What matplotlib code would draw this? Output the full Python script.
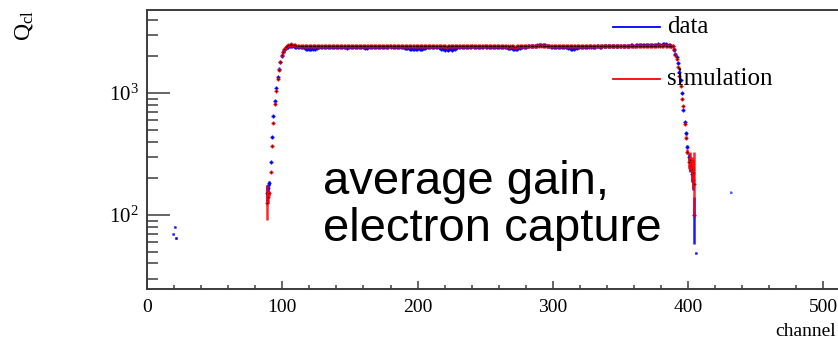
import numpy as np
import matplotlib
matplotlib.use("Agg")
import matplotlib.pyplot as plt
from matplotlib.lines import Line2D
from matplotlib.ticker import (LogLocator, MultipleLocator, LogFormatterMathtext,
                               NullFormatter)

# ---------------------------------------------------------------- data
# measured cluster charge per channel (bin centres)
data_edge_x = [19.5, 20.5, 21.5]
data_edge_y = [70, 79, 65]

rise_x = [88.5, 89.5, 90.5, 91.5, 92.5, 93.5, 94.5, 95.5, 96.5,
          97.5, 98.5, 99.5, 100.5, 101.5, 102.5, 103.5, 104.5, 105.5]
data_rise_y = [150, 165, 182, 273, 438, 648, 865, 1105, 1345,
               1560, 1790, 2000, 2150, 2250, 2320, 2370, 2400, 2430]
data_rise_err = [25, 15, 8, 5, 7, 10, 13, 16, 20,
                 23, 26, 30, 32, 33, 34, 35, 35, 36]
sim_rise_y = [125, 140, 150, 225, 368, 564, 808, 1044, 1300,
              1544, 1786, 2030, 2180, 2290, 2380, 2430, 2470, 2490]
sim_rise_lo = [34, 14, 8, 5, 6, 9, 12, 15, 19,
               22, 26, 30, 32, 33, 35, 35, 36, 36]
sim_rise_hi = [50, 14, 8, 5, 6, 9, 12, 15, 19,
               22, 26, 30, 32, 33, 35, 35, 36, 36]

plateau_first, plateau_last = 106.5, 387.5
data_plateau_y = [
    2440, 2420, 2410, 2400, 2390, 2380, 2395, 2385, 2370, 2380,
    2350, 2310, 2290, 2300, 2280, 2310, 2295, 2320, 2300, 2330,
    2360, 2380, 2390, 2375, 2385, 2395, 2380, 2370, 2390, 2400,
    2385, 2370, 2380, 2395, 2390, 2375, 2385, 2400, 2390, 2380,
    2360, 2350, 2370, 2385, 2390, 2380, 2395, 2385, 2370, 2380,
    2390, 2400, 2385, 2375, 2360, 2340, 2355, 2370, 2385, 2390,
    2380, 2395, 2400, 2390, 2380, 2370, 2385, 2395, 2390, 2380,
    2375, 2390, 2400, 2410, 2395, 2385, 2370, 2380, 2390, 2385,
    2375, 2380, 2390, 2370, 2350, 2340, 2330, 2320, 2310, 2300,
    2315, 2300, 2290, 2305, 2320, 2300, 2310, 2295, 2320, 2340,
    2360, 2380, 2390, 2385, 2375, 2390, 2400, 2385, 2370, 2360,
    2340, 2310, 2290, 2280, 2270, 2285, 2260, 2275, 2290, 2270,
    2280, 2300, 2330, 2360, 2380, 2390, 2385, 2395, 2400, 2390,
    2380, 2385, 2395, 2400, 2410, 2395, 2385, 2390, 2400, 2395,
    2385, 2380, 2395, 2405, 2400, 2390, 2380, 2385, 2395, 2400,
    2390, 2385, 2380, 2370, 2385, 2395, 2390, 2380, 2370, 2360,
    2350, 2340, 2330, 2320, 2310, 2300, 2290, 2300, 2320, 2340,
    2360, 2380, 2390, 2400, 2395, 2405, 2415, 2410, 2420, 2430,
    2440, 2450, 2460, 2470, 2480, 2475, 2490, 2470, 2460, 2450,
    2430, 2420, 2400, 2395, 2390, 2380, 2385, 2395, 2390, 2380,
    2375, 2385, 2390, 2380, 2360, 2340, 2320, 2310, 2300, 2310,
    2330, 2350, 2370, 2385, 2390, 2395, 2400, 2390, 2385, 2395,
    2400, 2410, 2395, 2385, 2390, 2400, 2410, 2405, 2395, 2400,
    2410, 2420, 2415, 2405, 2410, 2420, 2430, 2425, 2415, 2420,
    2430, 2440, 2435, 2425, 2430, 2440, 2450, 2445, 2435, 2440,
    2450, 2460, 2455, 2445, 2450, 2460, 2470, 2465, 2455, 2460,
    2470, 2480, 2475, 2465, 2470, 2480, 2490, 2485, 2475, 2480,
    2490, 2500, 2495, 2485, 2490, 2500, 2510, 2500, 2490, 2480,
    2460, 2440]
sim_plateau_y = [
    2500, 2490, 2470, 2455, 2440, 2435, 2430, 2440, 2425, 2430,
    2420, 2430, 2440, 2425, 2435, 2430, 2420, 2435, 2440, 2430,
    2425, 2435, 2440, 2430, 2420, 2430, 2440, 2435, 2425, 2430,
    2440, 2430, 2420, 2415, 2425, 2435, 2430, 2420, 2430, 2440,
    2435, 2425, 2430, 2420, 2410, 2425, 2435, 2430, 2420, 2425,
    2435, 2440, 2430, 2420, 2425, 2415, 2420, 2430, 2440, 2435,
    2425, 2430, 2440, 2445, 2435, 2425, 2430, 2420, 2415, 2425,
    2435, 2440, 2445, 2450, 2440, 2430, 2420, 2425, 2435, 2430,
    2420, 2425, 2435, 2430, 2420, 2410, 2415, 2425, 2420, 2410,
    2405, 2415, 2420, 2410, 2405, 2415, 2425, 2420, 2410, 2420,
    2430, 2435, 2440, 2430, 2420, 2430, 2440, 2435, 2425, 2420,
    2410, 2405, 2415, 2420, 2410, 2400, 2410, 2420, 2415, 2405,
    2410, 2420, 2430, 2435, 2440, 2430, 2420, 2430, 2440, 2435,
    2425, 2430, 2440, 2450, 2445, 2435, 2430, 2440, 2450, 2445,
    2435, 2430, 2440, 2445, 2435, 2425, 2430, 2440, 2435, 2425,
    2430, 2440, 2435, 2425, 2420, 2430, 2435, 2425, 2415, 2420,
    2410, 2400, 2410, 2420, 2410, 2400, 2395, 2405, 2415, 2420,
    2430, 2440, 2435, 2425, 2430, 2440, 2445, 2435, 2430, 2440,
    2450, 2445, 2440, 2450, 2455, 2445, 2440, 2450, 2445, 2435,
    2430, 2440, 2435, 2425, 2420, 2430, 2440, 2435, 2425, 2415,
    2420, 2430, 2425, 2415, 2410, 2405, 2415, 2425, 2420, 2410,
    2415, 2425, 2430, 2420, 2415, 2425, 2435, 2430, 2420, 2425,
    2435, 2440, 2430, 2420, 2425, 2435, 2440, 2430, 2420, 2425,
    2430, 2440, 2435, 2425, 2430, 2435, 2440, 2430, 2425, 2435,
    2440, 2435, 2425, 2430, 2440, 2445, 2435, 2430, 2440, 2435,
    2430, 2440, 2445, 2435, 2430, 2440, 2450, 2445, 2435, 2440,
    2445, 2440, 2435, 2445, 2450, 2440, 2435, 2445, 2450, 2445,
    2440, 2450, 2455, 2445, 2440, 2450, 2455, 2445, 2440, 2450,
    2440, 2430]
plateau_rel_err = 0.015

fall_x = [388.5, 389.5, 390.5, 391.5, 392.5, 393.5, 394.5, 395.5, 396.5,
          397.5, 398.5, 399.5, 400.5, 401.5, 402.5, 403.5, 404.5]
data_fall_y = [2430, 2250, 2100, 1985, 1750, 1495, 1278, 994, 726,
               582, 467, 363, 300, 250, 215, 195, 100]
data_fall_lo = [35, 33, 32, 30, 28, 25, 22, 18, 14,
                12, 11, 12, 20, 25, 30, 35, 42]
data_fall_hi = [35, 33, 32, 30, 28, 25, 22, 18, 14,
                12, 11, 12, 20, 25, 30, 35, 41]
sim_fall_y = [2420, 2300, 2050, 1900, 1620, 1380, 1150, 900, 780,
              560, 430, 330, 270, 280, 240, 220, 180]
sim_fall_lo = [35, 33, 31, 29, 26, 23, 20, 17, 15,
               12, 11, 15, 30, 50, 50, 55, 83]
sim_fall_hi = [35, 33, 31, 29, 26, 23, 20, 17, 15,
               12, 11, 15, 30, 50, 60, 70, 150]

data_tail_x = [405.5, 431.5]
data_tail_y = [49, 153]

# ---------------------------------------------------------------- style
plt.rcParams["font.family"] = ["Liberation Serif", "DejaVu Serif"]
plt.rcParams["mathtext.fontset"] = "custom"
plt.rcParams["mathtext.rm"] = "Liberation Serif"
plt.rcParams["mathtext.it"] = "Liberation Serif:italic"
plt.rcParams["mathtext.bf"] = "Liberation Serif:bold"

W, H = 838, 342
fig = plt.figure(figsize=(W / 100, H / 100), dpi=100)
ax = fig.add_axes([147 / W, (H - 289) / H, 692.7 / W, 279 / H])


def fx(px):
    return px / W


def fy(py):
    return 1 - py / H


plateau_x = np.arange(plateau_first, plateau_last + 1)


def build(edge_x, edge_y, rx, ry, rlo, rhi, py, fxs, fys, flo, fhi, tx, ty):
    x = list(edge_x) + list(rx) + list(plateau_x) + list(fxs) + list(tx)
    y = list(edge_y) + list(ry) + list(py) + list(fys) + list(ty)
    plo = [plateau_rel_err * v for v in py]
    lo = [1.5] * len(edge_x) + list(rlo) + plo + list(flo) + [1.0] * len(tx)
    hi = [1.5] * len(edge_x) + list(rhi) + plo + list(fhi) + [1.0] * len(tx)
    return np.array(x), np.array(y), np.array(lo), np.array(hi)


dx, dy, dlo, dhi = build(data_edge_x, data_edge_y, rise_x, data_rise_y,
                         data_rise_err, data_rise_err, data_plateau_y,
                         fall_x, data_fall_y, data_fall_lo, data_fall_hi,
                         data_tail_x, data_tail_y)
sx, sy, slo, shi = build([], [], rise_x, sim_rise_y, sim_rise_lo, sim_rise_hi,
                         sim_plateau_y, fall_x, sim_fall_y, sim_fall_lo,
                         sim_fall_hi, [], [])

blue = "#0000ff"
red = "#ff0000"

# markers only inside the illuminated region; isolated bins stay as dashes
dm = (dx > rise_x[0] - 1) & (dx < fall_x[-1] + 0.1)

ax.errorbar(dx, dy, xerr=0.5, yerr=[dlo, dhi], fmt="none", ecolor=blue,
            elinewidth=1.8, capsize=0, alpha=0.9)
ax.plot(dx[dm], dy[dm], ls="none", marker="+", ms=3.2, mew=1.0, color=blue)
ax.errorbar(sx, sy, xerr=0.5, yerr=[slo, shi], fmt="none", ecolor=red,
            elinewidth=1.8, capsize=0, alpha=0.85)
ax.plot(sx, sy, ls="none", marker="+", ms=3.2, mew=1.0, color=red)
ax.plot(sx, sy, ls="none", marker="s", ms=1.0, mew=0, color="#200000")

ax.set_yscale("log")
ax.set_xlim(0, 512)
ax.set_ylim(24.7, 4790)

ax.xaxis.set_major_locator(MultipleLocator(100))
ax.xaxis.set_minor_locator(MultipleLocator(20))
ax.yaxis.set_major_locator(LogLocator(base=10))
ax.yaxis.set_major_formatter(LogFormatterMathtext())
ax.yaxis.set_minor_locator(LogLocator(base=10, subs=range(2, 10)))
ax.yaxis.set_minor_formatter(NullFormatter())

frame = "#3c3c3c"
for side in ("left", "bottom", "top"):
    ax.spines[side].set_color(frame)
    ax.spines[side].set_linewidth(1.4)
ax.spines["right"].set_visible(False)

ax.tick_params(axis="y", which="major", direction="in", length=16.5,
               width=1.1, color=frame, labelsize=15, pad=6, left=True,
               right=False)
ax.tick_params(axis="y", which="minor", direction="in", length=8,
               width=1.1, color=frame, left=True, right=False)
ax.tick_params(axis="x", which="major", direction="in", length=6,
               width=1.1, color=frame, labelsize=14, pad=7, top=False)
ax.tick_params(axis="x", which="minor", direction="in", length=3,
               width=1.1, color=frame, top=False)

# axis titles
fig.text(fx(24), fy(26), r"$\mathrm{Q_{cl}}$", rotation=90, fontsize=17,
         ha="center", va="center")
fig.text(fx(836), fy(331), "channel", fontsize=14, ha="right", va="center")

# legend
for ypx, col, lab in ((27, blue, "data"), (79, red, "simulation")):
    fig.add_artist(Line2D([fx(613), fx(660)], [fy(ypx), fy(ypx)],
                          color=col, lw=1.3))
    fig.text(fx(667), fy(ypx), lab, fontsize=18, ha="left", va="center")

# annotation
for ypx, line in ((194, "average gain,"), (241, "electron capture")):
    fig.text(fx(323), fy(ypx), line, fontsize=34, ha="left", va="baseline",
             family=["Liberation Sans", "DejaVu Sans"])

fig.savefig("out.png", dpi=100)
